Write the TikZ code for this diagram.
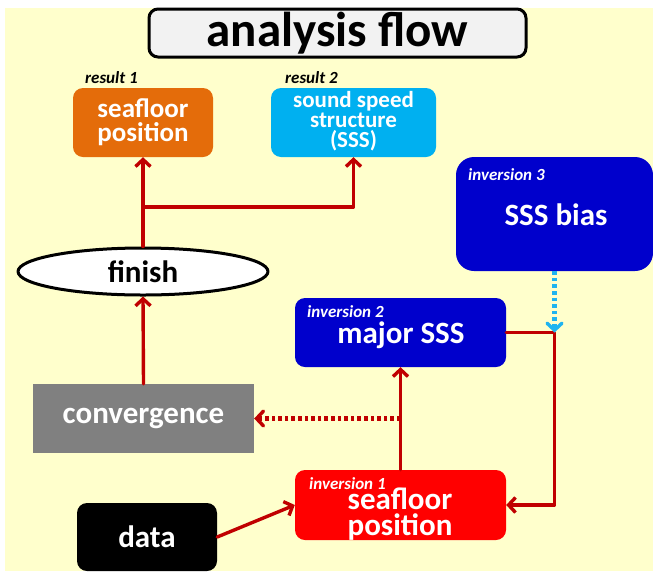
\documentclass[tikz,border=0pt]{standalone}
\usepackage{fontspec}
\setmainfont{Carlito}
\usepackage{tikz}
\usetikzlibrary{arrows.meta,positioning,calc,shapes.geometric}
\definecolor{AFPaper}{HTML}{FFFFCC}
\definecolor{AFTitle}{HTML}{F2F2F2}
\definecolor{AFOrange}{HTML}{E46C0A}
\definecolor{AFCyan}{HTML}{00B0F0}
\definecolor{AFNavy}{HTML}{0000CC}
\definecolor{AFRed}{HTML}{FF0000}
\definecolor{AFGray}{HTML}{808080}
\definecolor{AFWine}{HTML}{C00000}
\definecolor{AFSky}{HTML}{1FB4F0}

\begin{document}
\begin{tikzpicture}[x=1pt,y=-1pt,line cap=round,line join=round,font=\bfseries,
    stepbox/.style={inner sep=0pt,rounded corners=10pt,text=white},
    maintext/.style={text=white,align=center,font=\bfseries\fontsize{31}{26}\selectfont},
    tag/.style={anchor=west,inner sep=0pt,font=\bfseries\itshape\fontsize{17}{17}\selectfont},
    flow/.style={AFWine,line width=3.4pt,-{Straight Barb[length=7pt,width=15pt]}},
    dotflow/.style={AFWine,line width=4.2pt,line cap=butt,dash pattern=on 3.6pt off 3pt,
      -{Straight Barb[length=7pt,width=15pt,line width=3.4pt,line cap=round]}},
    skyflow/.style={AFSky,line width=4.2pt,line cap=butt,dash pattern=on 3.6pt off 3pt,
      -{Straight Barb[length=7pt,width=15pt,line width=3.4pt,line cap=round]}}]
  \path[use as bounding box] (0,0) rectangle (653,571);
  \fill[AFPaper] (5,8) rectangle (653,571);

  % Title banner.
  \node[draw=black,fill=AFTitle,line width=3pt,rounded corners=9pt,
    minimum width=377pt,minimum height=48pt,inner sep=0pt,
    font=\bfseries\fontsize{49}{49}\selectfont] (title) at (337.5,33)
    {analysis flow};

  % Results of the analysis.
  \node[stepbox,fill=AFOrange,minimum width=140pt,minimum height=69pt]
    (pos) at (143,122.5) {};
  \node[maintext,font=\bfseries\fontsize{27}{24}\selectfont] at (143,122)
    {seafloor\\position};
  \node[tag] at (85,78) {result 1};

  \node[stepbox,fill=AFCyan,minimum width=165pt,minimum height=69pt]
    (sss) at (353.5,122.5) {};
  \node[maintext,font=\bfseries\fontsize{23}{20}\selectfont] at (353.5,121)
    {sound speed\\structure\\(SSS)};
  \node[tag] at (285,78) {result 2};

  % Inversion steps.
  \node[stepbox,fill=AFNavy,rounded corners=18pt,minimum width=197pt,
    minimum height=114pt] (bias) at (554.5,214) {};
  \node[maintext] at (556,215) {SSS bias};
  \node[tag,text=white] at (468,175) {inversion 3};

  \node[stepbox,fill=AFNavy,minimum width=211pt,minimum height=69pt]
    (major) at (400.5,332.5) {};
  \node[maintext] at (401,335) {major SSS};
  \node[tag,text=white] at (307,312) {inversion 2};

  \node[stepbox,fill=AFRed,minimum width=211pt,minimum height=70pt]
    (inv) at (400.5,505) {};
  \node[maintext] at (400,514) {seafloor\\position};
  \node[tag,text=white] at (309,484) {inversion 1};

  % Control nodes.
  \node[ellipse,draw=black,fill=white,line width=3pt,minimum width=250pt,
    minimum height=47pt,inner sep=0pt,font=\bfseries\fontsize{31}{31}\selectfont]
    (finish) at (143,271.5) {finish};
  \node[fill=AFGray,minimum width=221pt,minimum height=69pt,inner sep=0pt,
    text=white,font=\bfseries\fontsize{31}{31}\selectfont]
    (conv) at (143.5,418.5) {convergence};
  \node[stepbox,fill=black,minimum width=140pt,minimum height=68pt,
    font=\bfseries\fontsize{31}{31}\selectfont] (data) at (147,537) {data};

  % Connectors.
  \coordinate (split) at (143,207);
  \coordinate (bend) at (bias.south |- major.east);
  \draw[flow] (conv.north) -- (finish.south);
  \draw[flow] (finish.north) -- (pos.south);
  \draw[flow] (split) -| (sss.south);
  \draw[flow] (data.east) -- (inv.west);
  \draw[flow] (inv.north) -- (major.south);
  \draw[dotflow] (inv.north |- conv.east) -- (conv.east);
  \draw[flow] (major.east) -- (bend) |- (inv.east);
  \draw[skyflow] (bias.south) -- (bend);
\end{tikzpicture}
\end{document}
